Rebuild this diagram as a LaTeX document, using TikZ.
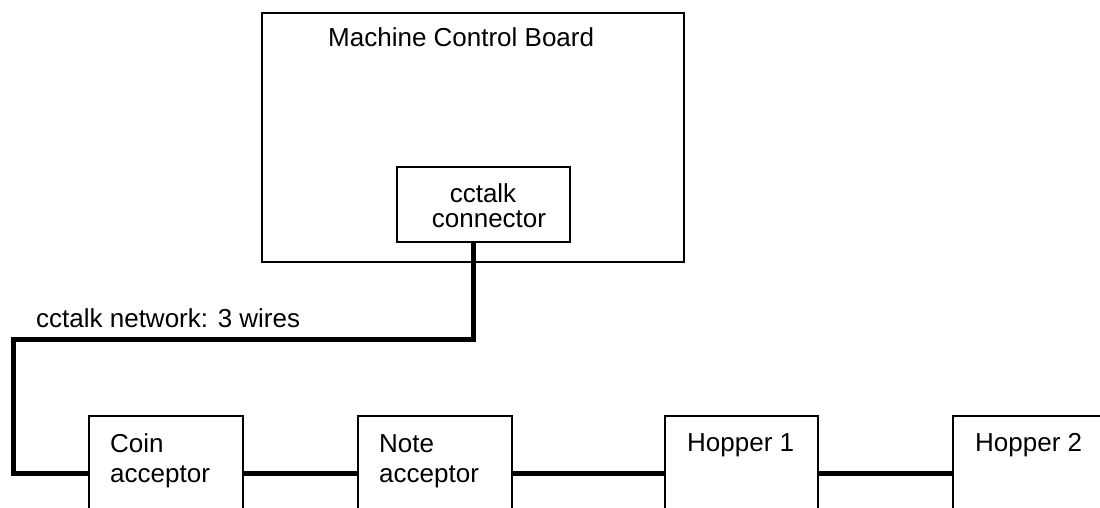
\documentclass[tikz,border=0pt]{standalone}
\usepackage{fontspec}
\setmainfont{Liberation Sans}
\begin{document}
\begin{tikzpicture}[x=1pt,y=-1pt,
  box/.style={draw, line width=1.5pt, inner sep=0pt, outer sep=0pt, anchor=north west},
  wire/.style={line width=5pt},
  lbl/.style={font=\fontsize{26}{30}\selectfont, inner sep=0pt, anchor=base west}]
\useasboundingbox (0,0) rectangle (1100,508);
% boxes
\node[box, minimum width=422pt, minimum height=249pt] (mcb) at (262,13) {};
\node[box, minimum width=173pt, minimum height=75pt] (conn) at (397,167) {};
\node[box, minimum width=154pt, minimum height=130pt] (coin) at (89,416) {};
\node[box, minimum width=154pt, minimum height=130pt] (note) at (358,416) {};
\node[box, minimum width=153pt, minimum height=130pt] (hop1) at (665,416) {};
\node[box, minimum width=250pt, minimum height=130pt] (hop2) at (953,416) {};
% labels
\node[lbl] (tmcb) at (328,47) {Machine Control Board};
\node[lbl, anchor=base] (tconn1) at (483,202) {cctalk};
\node[lbl, anchor=base] (tconn2) at (489,227) {connector};
\node[lbl] (tnet) at (36,327) {cctalk network: 3 wires};
\node[lbl] (tcoin1) at (110,452) {Coin};
\node[lbl] (tcoin2) at (110,482) {acceptor};
\node[lbl] (tnote1) at (379,452) {Note};
\node[lbl] (tnote2) at (379,482) {acceptor};
\node[lbl] (thop1) at (687,451) {Hopper 1};
\node[lbl] (thop2) at (975,451) {Hopper 2};
% wires
\coordinate (w1) at (473,339);
\coordinate (w2) at (13,339);
\coordinate (w3) at (13,473);
\draw[wire] (conn.south -| w1) -- (w1) -- (w2) -- (w3) -- (w3 -| coin.west);
\draw[wire] (coin.east |- w3) -- (note.west |- w3);
\draw[wire] (note.east |- w3) -- (hop1.west |- w3);
\draw[wire] (hop1.east |- w3) -- (hop2.west |- w3);
\end{tikzpicture}
\end{document}
